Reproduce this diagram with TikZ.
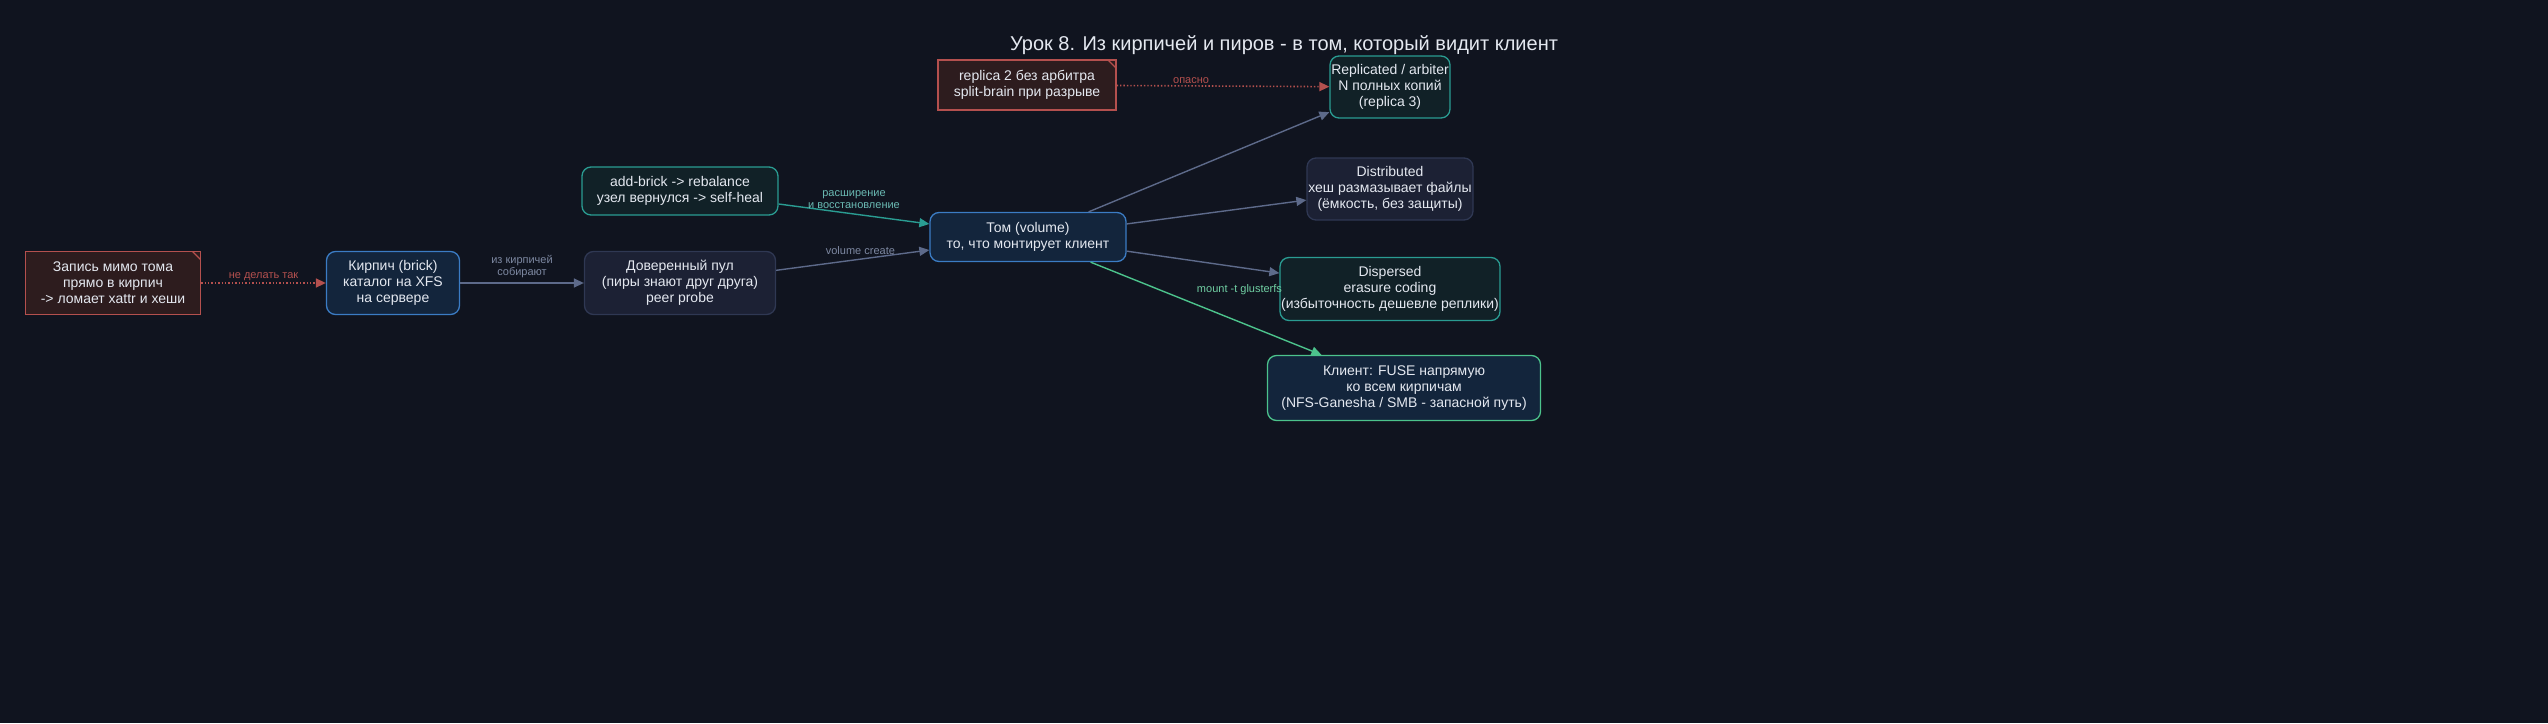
\documentclass[tikz,border=0pt]{standalone}
\usepackage{fontspec}
\setmainfont{Liberation Sans}
\usetikzlibrary{arrows.meta}
\definecolor{bg}{HTML}{10141F}
\definecolor{txt}{HTML}{E4E8F0}
\definecolor{bluefill}{HTML}{13253C}
\definecolor{blueline}{HTML}{3B7CC4}
\definecolor{greyfill}{HTML}{1C2134}
\definecolor{greyline}{HTML}{2F3853}
\definecolor{tealfill}{HTML}{112127}
\definecolor{tealline}{HTML}{2A9C92}
\definecolor{redfill}{HTML}{2D1C1E}
\definecolor{redline}{HTML}{B4504E}
\definecolor{greenline}{HTML}{4CC38C}
\definecolor{edgegrey}{HTML}{5D6A8A}
\tikzset{
  box/.style={draw, rounded corners=9pt, line width=1.3pt, align=center,
    text=txt, font=\fontsize{14}{16}\selectfont, inner sep=0pt},
  note/.style={draw=redline, fill=redfill, line width=1.3pt, align=center,
    text=txt, font=\fontsize{14}{16}\selectfont, inner sep=0pt,
    path picture={\draw[redline, line width=1.3pt]
      ([xshift=-8pt]path picture bounding box.north east) -- ++(8pt,-8pt);}},
  edge/.style={draw=edgegrey, line width=1.4pt, -{Triangle[length=10pt,width=9pt]}},
  lbl/.style={font=\fontsize{11}{12}\selectfont, align=center}
}
\begin{document}
\begin{tikzpicture}[x=1pt,y=-1pt]
\fill[bg] (0,0) rectangle (2548,723);

\node[text=txt, font=\fontsize{20}{24}\selectfont] (title) at (1284,45)
  {Урок 8. Из кирпичей и пиров - в том, который видит клиент};

\node[note, minimum width=175pt, minimum height=63pt] (write) at (113,283)
  {Запись мимо тома\\прямо в кирпич\\-> ломает xattr и хеши};
\node[box, draw=blueline, fill=bluefill, minimum width=133pt, minimum height=63pt] (brick) at (393,283)
  {Кирпич (brick)\\каталог на XFS\\на сервере};
\node[box, draw=greyline, fill=greyfill, minimum width=191pt, minimum height=63pt] (pool) at (680,283)
  {Доверенный пул\\(пиры знают друг друга)\\peer probe};
\node[box, draw=tealline, fill=tealfill, minimum width=196pt, minimum height=48pt] (heal) at (680,191)
  {add-brick -> rebalance\\узел вернулся -> self-heal};
\node[box, draw=blueline, fill=bluefill, minimum width=196pt, minimum height=49pt] (volume) at (1028,237)
  {Том (volume)\\то, что монтирует клиент};
\node[note, minimum width=178pt, minimum height=50pt] (split) at (1027,85)
  {replica 2 без арбитра\\split-brain при разрыве};
\node[box, draw=tealline, fill=tealfill, minimum width=120pt, minimum height=62pt] (repl) at (1390,87)
  {Replicated / arbiter\\N полных копий\\(replica 3)};
\node[box, draw=greyline, fill=greyfill, minimum width=166pt, minimum height=62pt] (dist) at (1390,189)
  {Distributed\\хеш размазывает файлы\\(ёмкость, без защиты)};
\node[box, draw=tealline, fill=tealfill, minimum width=220pt, minimum height=63pt] (disp) at (1390,289)
  {Dispersed\\erasure coding\\(избыточность дешевле реплики)};
\node[box, draw=greenline, fill=bluefill, minimum width=273pt, minimum height=65pt] (client) at (1404,388)
  {Клиент: FUSE напрямую\\ко всем кирпичам\\(NFS-Ganesha / SMB - запасной путь)};

% connectors
\draw[edge, draw=redline, dotted, line width=1.6pt] (write) -- node[lbl, text=redline, above=-2pt] {не делать так} (brick);
\draw[edge] (brick) -- node[lbl, text=edgegrey!80!white, above=1pt] {из кирпичей\\собирают} (pool);
\draw[edge] (pool) -- node[lbl, text=edgegrey!80!white, above=1pt, pos=0.55] {volume create} (volume);
\draw[edge, draw=tealline] (heal) -- node[lbl, text=tealline!70!white, above=1pt] {расширение\\и восстановление} (volume);
\draw[edge] (volume) -- (repl);
\draw[edge] (volume) -- (dist);
\draw[edge] (volume) -- (disp);
\draw[edge, draw=greenline] (volume) -- node[lbl, text=greenline!80!white, above right, xshift=10pt, pos=0.4] {mount -t glusterfs} (client);
\draw[edge, draw=redline, dotted, line width=1.6pt] (split) -- node[lbl, text=redline, above=-2pt, pos=0.35] {опасно} (repl);
\end{tikzpicture}
\end{document}
